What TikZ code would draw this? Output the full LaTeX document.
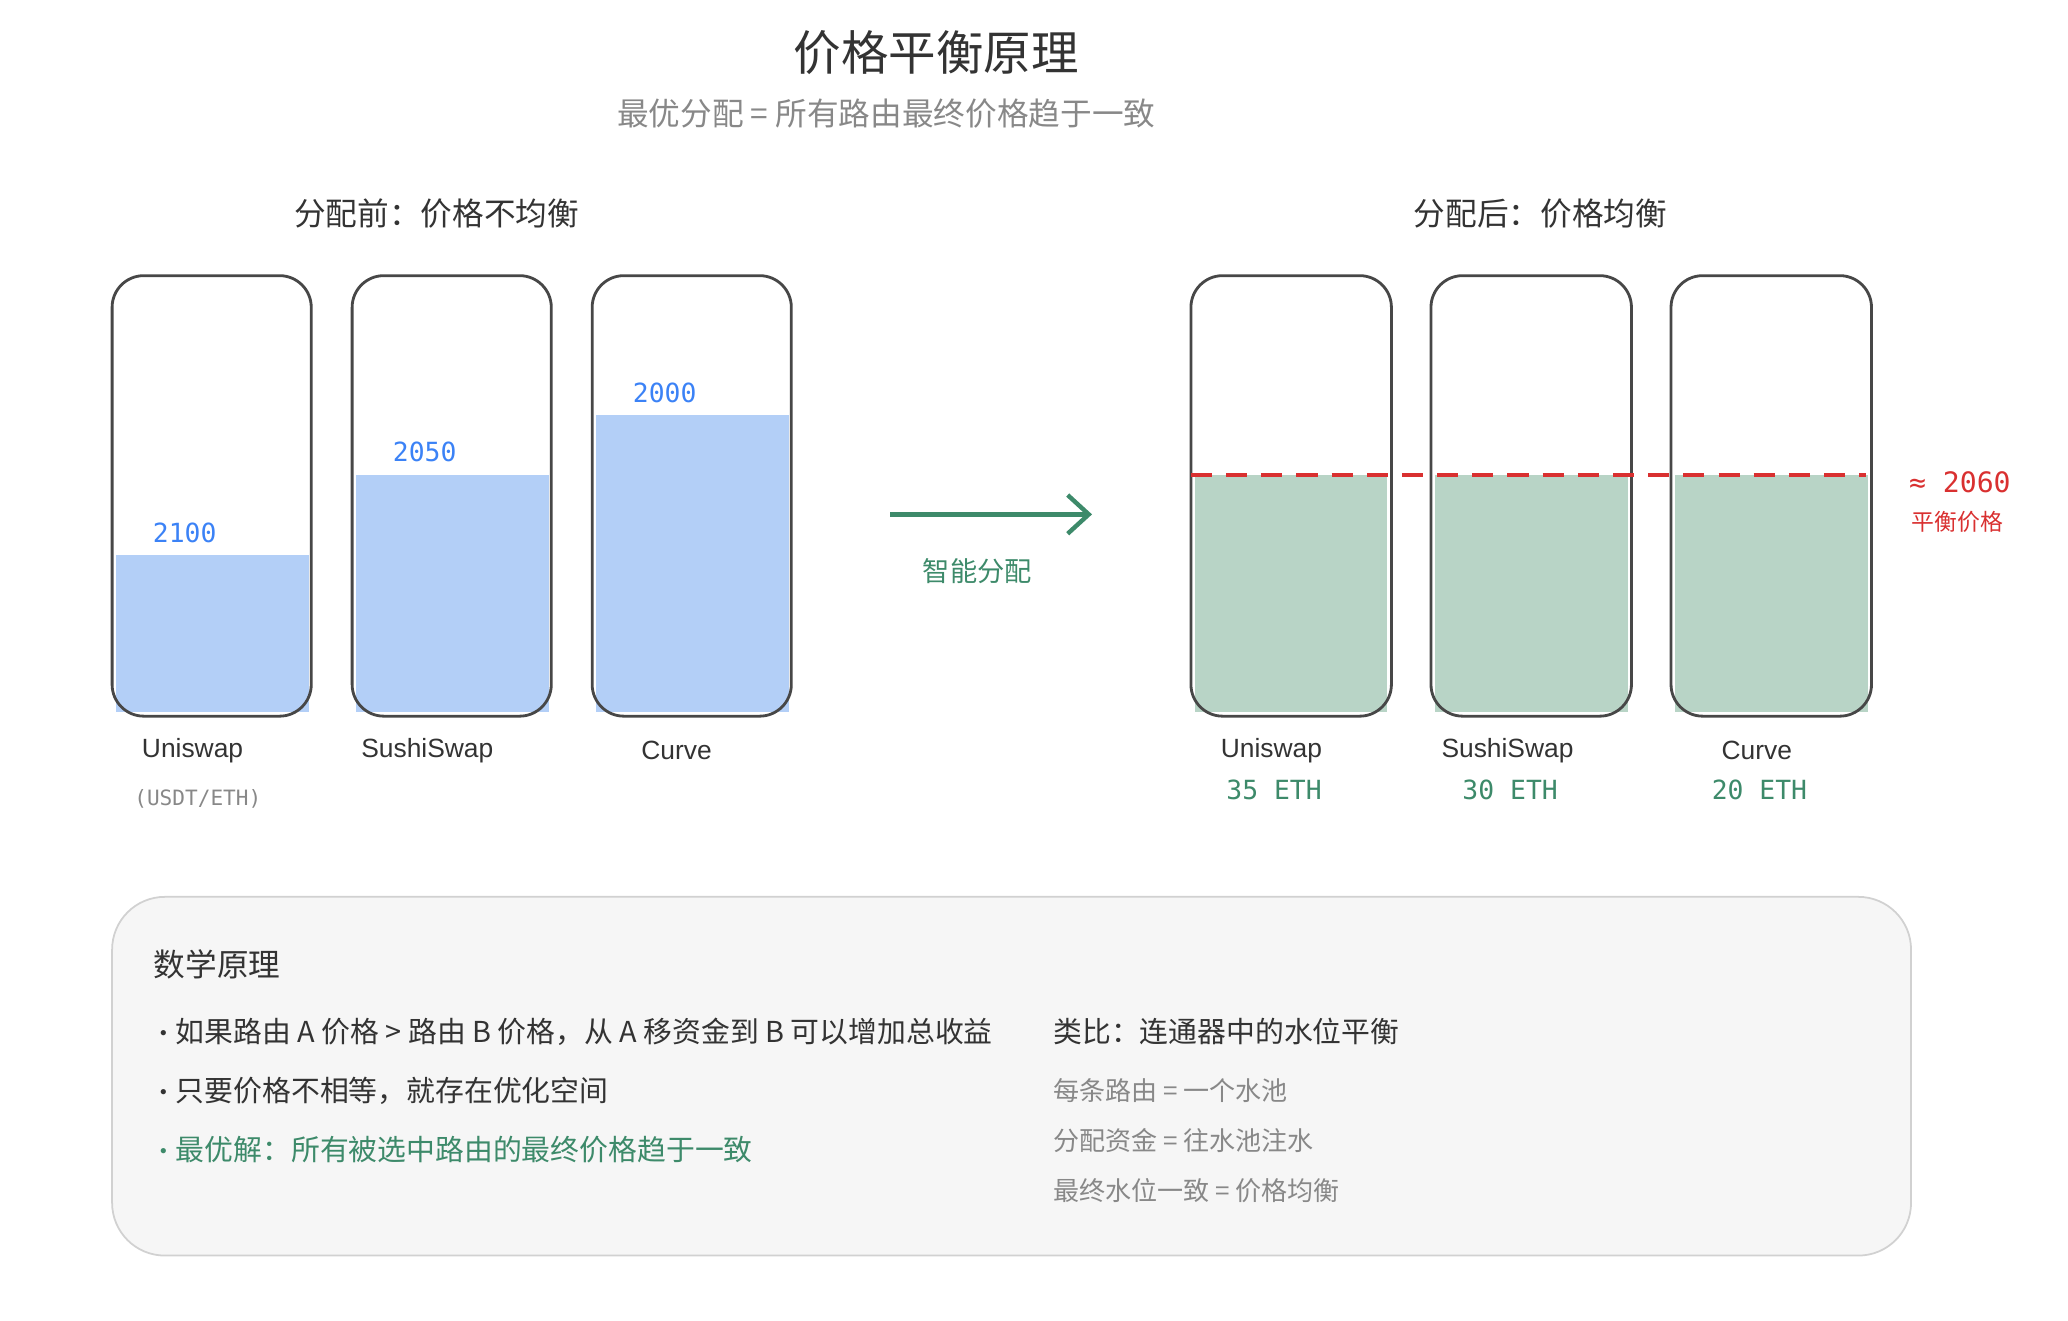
\documentclass[tikz,border=0pt]{standalone}
\usepackage{fontspec}
\usetikzlibrary{arrows.meta}
\setmainfont{Liberation Sans}
\newfontfamily\cjk{Noto Sans CJK SC}
\newfontfamily\mono{DejaVu Sans Mono}
\definecolor{dk}{HTML}{333333}
\definecolor{gr}{HTML}{888888}
\definecolor{bluef}{HTML}{B3CFF7}
\definecolor{bluet}{HTML}{3B82F6}
\definecolor{grnf}{HTML}{B8D4C6}
\definecolor{grnt}{HTML}{3D8A6A}
\definecolor{redt}{HTML}{D93030}
\tikzset{
 cup/.style={draw=dk!90,line width=1.6pt,rounded corners=18pt},
 poolname/.style={font=\fontsize{15}{18}\selectfont,text=dk},
 numtxt/.style={font=\mono\fontsize{15}{18}\selectfont},
 ct/.style={font=\cjk\fontsize{16.4}{19}\selectfont,text=dk,anchor=west}}
\begin{document}
\begin{tikzpicture}[x=0.75pt,y=-0.75pt]
\useasboundingbox (0,0) rectangle (1568,1001);
\node[font=\cjk\fontsize{27}{32}\selectfont,text=dk] (title) at (710,40) {价格平衡原理};
\node[font=\cjk\fontsize{18}{21}\selectfont,text=gr] (sub) at (672,86) {最优分配 = 所有路由最终价格趋于一致};
\node[font=\cjk\fontsize{18}{21}\selectfont,text=dk] (h1) at (331,162) {分配前：价格不均衡};
\node[font=\cjk\fontsize{18}{21}\selectfont,text=dk] (h2) at (1168,162) {分配后：价格均衡};
% left cups
\foreach \x/\t/\v/\nm/\lx in {85/421/2100/Uniswap/146,267/360/2050/SushiSwap/324,449/315/2000/Curve/513}{
 \fill[bluef] (\x+3,\t) rectangle (\x+149,540);
 \draw[cup] (\x,209) rectangle (\x+151,543);
 \node[numtxt,text=bluet] at (\x+55,\t-17) {\v};
 \node[poolname] at (\lx,569) {\nm};
}
\node[font=\mono\fontsize{12}{14}\selectfont,text=gr] (unit) at (150,606) {(USDT/ETH)};
% arrow
\coordinate (a1) at (675,390); \coordinate (a2) at (828,390);
\draw[grnt,line width=2.5pt,-{Straight Barb[length=12pt,width=22pt]}] (a1) -- (a2);
\node[font=\cjk\fontsize{15.5}{18}\selectfont,text=grnt] (al) at (741,433) {智能分配};
% right cups
\foreach \x/\nm/\lx/\e in {903/Uniswap/964/35,1085/SushiSwap/1143/30,1267/Curve/1332/20}{
 \fill[grnf] (\x+3,360) rectangle (\x+149,540);
 \draw[cup] (\x,209) rectangle (\x+152,543);
 \node[poolname] at (\lx,569) {\nm};
 \node[numtxt,text=grnt] at (\lx+2,599) {\e{} ETH};
}
\coordinate (d1) at (903,360); \coordinate (d2) at (1415,360);
\draw[redt,line width=2.3pt,dash pattern=on 12pt off 8pt] (d1) -- (d2);
\node[text=redt,font=\mono\fontsize{16}{19}\selectfont] (eq) at (1486,366) {≈ 2060};
\node[font=\cjk\fontsize{13}{15}\selectfont,text=redt] (eql) at (1484,396) {平衡价格};
% bottom box
\draw[draw=black!18,fill=black!3.5,line width=1pt,rounded corners=30pt] (85,680) rectangle (1449,952);
\node[ct,font=\cjk\fontsize{18}{21}\selectfont] (m) at (112,731) {数学原理};
\node[ct] (b1) at (110,782) {{\fontsize{14}{14}\selectfont•}如果路由 A 价格 > 路由 B 价格，从 A 移资金到 B 可以增加总收益};
\node[ct] (b2) at (110,827) {{\fontsize{14}{14}\selectfont•}只要价格不相等，就存在优化空间};
\node[ct,text=grnt] (b3) at (110,872) {{\fontsize{14}{14}\selectfont•}最优解：所有被选中路由的最终价格趋于一致};
\node[ct] (c1) at (794,782) {类比：连通器中的水位平衡};
\node[ct,text=gr,font=\cjk\fontsize{14.8}{17}\selectfont] (c2) at (794,827) {每条路由 = 一个水池};
\node[ct,text=gr,font=\cjk\fontsize{14.8}{17}\selectfont] (c3) at (794,865) {分配资金 = 往水池注水};
\node[ct,text=gr,font=\cjk\fontsize{14.8}{17}\selectfont] (c4) at (794,903) {最终水位一致 = 价格均衡};
\end{tikzpicture}
\end{document}
